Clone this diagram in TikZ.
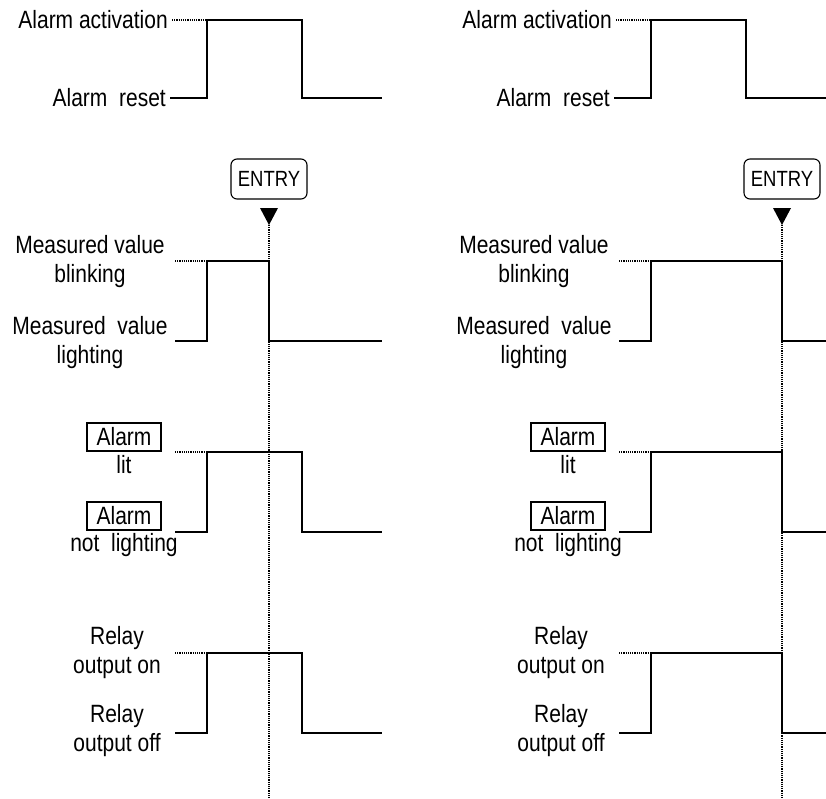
\documentclass[tikz,border=0pt]{standalone}
\usepackage{fontspec}
\setmainfont{Liberation Sans}[FakeStretch=0.84]
\usetikzlibrary{positioning,shapes.geometric}

\begin{document}
\begin{tikzpicture}[x=1pt, y=-1pt,
  lbl/.style={font=\fontsize{25}{29}\selectfont, align=center, inner sep=0pt},
  keybox/.style={draw, line width=1.1pt, font=\fontsize{25}{27}\selectfont,
                 minimum width=74, minimum height=28, inner sep=0pt},
  entrybox/.style={draw, line width=1.1pt, rounded corners=6pt,
                   font=\fontsize{22}{24}\selectfont,
                   minimum width=76, minimum height=40, inner sep=0pt},
  signal/.style={line width=2.8pt},
  guide/.style={line width=1.1pt, dash pattern=on 1.1pt off 1.1pt}
]
  \useasboundingbox (0,0) rectangle (826,798);

  % two panels: ENTRY before / after the alarm reset
  \foreach \dx/\ent/\off/\p in {0/269/302/L, 444/338/338/R}{
  \begin{scope}[xshift=\dx]
    % alarm state
    \node[lbl, anchor=east] (act\p) at (168,20) {Alarm activation};
    \node[lbl, anchor=east] (rst\p) at (166,98) {Alarm\ \ reset};
    \coordinate (acthi\p) at (207,20);
    \draw[guide] (act\p.east) ++(4,0) -- (acthi\p);
    \draw[signal] (rst\p.east) ++(4,0) -| (acthi\p) -| (302,98) -- (382,98);

    % ENTRY key
    \node[entrybox] (entry\p) at (\ent,179) {ENTRY};
    \coordinate (tip\p) at (\ent,225);
    \fill (\ent-9,208) -- (\ent+9,208) -- (tip\p) -- cycle;
    \coordinate (bot\p) at (\ent,798);
    \draw[guide] (tip\p) -- (bot\p);

    % measured value
    \node[lbl] (blink\p) at (90,262) {Measured value\\blinking};
    \node[lbl] (light\p) at (90,343) {Measured\ \ value\\lighting};
    \coordinate (mvhi\p) at (207,261);
    \draw[guide] (175,261) -- (mvhi\p);
    \draw[signal] (175,341) -| (mvhi\p) -| (\ent,341) -- (382,341);

    % alarm lamp
    \node[keybox] (lamp\p) at (124,437) {Alarm};
    \node[lbl, below=4pt of lamp\p] (lit\p) {lit};
    \node[keybox] (lampoff\p) at (124,516) {Alarm};
    \node[lbl, below=3pt of lampoff\p] (notlit\p) {not\ \ lighting};
    \coordinate (alhi\p) at (207,452);
    \draw[guide] (175,452) -- (alhi\p);
    \draw[signal] (175,532) -| (alhi\p) -| (\off,532) -- (382,532);

    % relay output
    \node[lbl] (ron\p) at (117,653) {Relay\\output on};
    \node[lbl] (roff\p) at (117,731) {Relay\\output off};
    \coordinate (rlhi\p) at (207,653);
    \draw[guide] (175,653) -- (rlhi\p);
    \draw[signal] (175,733) -| (rlhi\p) -| (\off,733) -- (382,733);
  \end{scope}
  }
\end{tikzpicture}
\end{document}
